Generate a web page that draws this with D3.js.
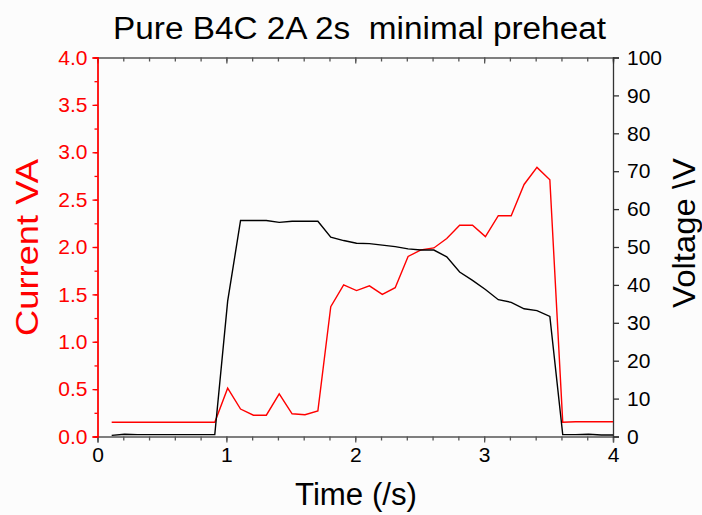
<!DOCTYPE html>
<html>
<head>
<meta charset="utf-8">
<script src="https://cdn.jsdelivr.net/npm/d3@7"></script>
<style>
  body { margin: 0; background: #fcfcfc; }
  text { font-family: "Liberation Sans", Arial, sans-serif; }
</style>
</head>
<body>
<svg id="chart"></svg>
<script>
const times = [0.11, 0.21, 0.31, 0.41, 0.51, 0.61, 0.71, 0.81, 0.91, 1.01,
  1.11, 1.21, 1.31, 1.41, 1.51, 1.61, 1.71, 1.81, 1.91, 2.01,
  2.11, 2.21, 2.31, 2.41, 2.51, 2.61, 2.71, 2.81, 2.91, 3.01,
  3.11, 3.21, 3.31, 3.41, 3.51, 3.61, 3.71, 3.81, 3.91, 4.0];
const current = [0.15, 0.15, 0.15, 0.15, 0.15, 0.15, 0.15, 0.15, 0.15, 0.51,
  0.29, 0.225, 0.225, 0.45, 0.24, 0.23, 0.27, 1.37, 1.60, 1.54,
  1.59, 1.50, 1.57, 1.90, 1.97, 1.99, 2.09, 2.23, 2.23, 2.11,
  2.33, 2.33, 2.66, 2.84, 2.71, 0.15, 0.155, 0.155, 0.155, 0.155];
const voltage = [0.3, 0.6, 0.5, 0.5, 0.5, 0.5, 0.5, 0.5, 0.5, 35.7,
  57.0, 57.0, 57.0, 56.5, 56.8, 56.8, 56.8, 52.6, 51.7, 51.0,
  50.9, 50.5, 50.1, 49.5, 49.2, 49.2, 47.4, 43.4, 41.2, 38.8,
  36.1, 35.4, 33.7, 33.2, 31.7, 0.5, 0.5, 0.6, 0.4, 0.4];

const xTicks = [0, 1, 2, 3, 4];
const currentTicks = [0, 0.5, 1, 1.5, 2, 2.5, 3, 3.5, 4];
const voltageTicks = [0, 10, 20, 30, 40, 50, 60, 70, 80, 90, 100];

const title = "Pure B4C 2A 2s  minimal preheat";

const W = 702, H = 515;
const m = {left: 97.5, right: 613, top: 57.5, bottom: 436.5};

const svg = d3.select("#chart")
    .attr("width", W)
    .attr("height", H);

const x = d3.scaleLinear().domain([0, 4]).range([m.left, m.right]);
const yI = d3.scaleLinear().domain([0, 4]).range([m.bottom, m.top]);
const yV = d3.scaleLinear().domain([0, 100]).range([m.bottom, m.top]);

const red = "#ff0000";

// minor ticks first, then the labelled major axis on top
svg.append("g")
    .attr("transform", `translate(0,${m.bottom})`)
    .call(d3.axisBottom(x).tickValues(d3.range(0, 4.01, 0.2)).tickSize(4).tickFormat(""))
    .call(g => g.select(".domain").remove());
svg.append("g")
    .attr("transform", `translate(0,${m.bottom})`)
    .call(d3.axisBottom(x).tickValues(xTicks).tickSize(6).tickPadding(5).tickFormat(d3.format("d")))
    .call(g => g.selectAll("text").attr("font-size", 21).attr("fill", "#000"));

svg.append("g")
    .attr("transform", `translate(0,${m.top})`)
    .call(d3.axisTop(x).tickValues(d3.range(0, 4.01, 0.2)).tickSize(-4).tickFormat(""));
svg.append("g")
    .attr("transform", `translate(0,${m.top})`)
    .call(d3.axisTop(x).tickValues(xTicks).tickSize(-6).tickFormat(""))
    .call(g => g.select(".domain").remove());

svg.selectAll(".tick line, .domain").attr("stroke", "#555").attr("stroke-width", 1.3);

const leftMinor = svg.append("g")
    .attr("transform", `translate(${m.left},0)`)
    .call(d3.axisLeft(yI).tickValues(d3.range(0, 4.01, 0.25)).tickSize(3).tickFormat(""));
const leftAxis = svg.append("g")
    .attr("transform", `translate(${m.left},0)`)
    .call(d3.axisLeft(yI).tickValues(currentTicks).tickSize(5).tickPadding(5).tickFormat(d3.format(".1f")));
[leftMinor, leftAxis].forEach(g => g.selectAll("line, path").attr("stroke", red).attr("stroke-width", 1.3));
leftAxis.selectAll("text").attr("font-size", 21).attr("fill", red);

const rightAxis = svg.append("g")
    .attr("transform", `translate(${m.right},0)`)
    .call(d3.axisRight(yV).tickValues(voltageTicks).tickSize(6).tickPadding(8));
rightAxis.selectAll("line, path").attr("stroke", "#333").attr("stroke-width", 1.3);
rightAxis.selectAll("text").attr("font-size", 21).attr("fill", "#000");

const lineI = d3.line().x((d, i) => x(times[i])).y(d => yI(d));
const lineV = d3.line().x((d, i) => x(times[i])).y(d => yV(d));

svg.append("path")
    .datum(current)
    .attr("d", lineI)
    .attr("fill", "none")
    .attr("stroke", red)
    .attr("stroke-width", 1.4);

svg.append("path")
    .datum(voltage)
    .attr("d", lineV)
    .attr("fill", "none")
    .attr("stroke", "#000")
    .attr("stroke-width", 1.4);

svg.append("text")
    .attr("x", 359.5)
    .attr("y", 38.5)
    .attr("text-anchor", "middle")
    .attr("font-size", 31)
    .attr("textLength", 493)
    .attr("lengthAdjust", "spacingAndGlyphs")
    .style("white-space", "pre")
    .text(title);

svg.append("text")
    .attr("x", 356)
    .attr("y", 505)
    .attr("text-anchor", "middle")
    .attr("font-size", 31)
    .attr("textLength", 122)
    .attr("lengthAdjust", "spacingAndGlyphs")
    .text("Time (/s)");

svg.append("text")
    .attr("transform", "translate(38,247.5) rotate(-90)")
    .attr("text-anchor", "middle")
    .attr("font-size", 31)
    .attr("textLength", 177)
    .attr("lengthAdjust", "spacingAndGlyphs")
    .attr("fill", red)
    .text("Current VA");

svg.append("text")
    .attr("transform", "translate(695,233) rotate(-90)")
    .attr("text-anchor", "middle")
    .attr("font-size", 31)
    .attr("textLength", 150)
    .attr("lengthAdjust", "spacingAndGlyphs")
    .text("Voltage \\V");
</script>
</body>
</html>
